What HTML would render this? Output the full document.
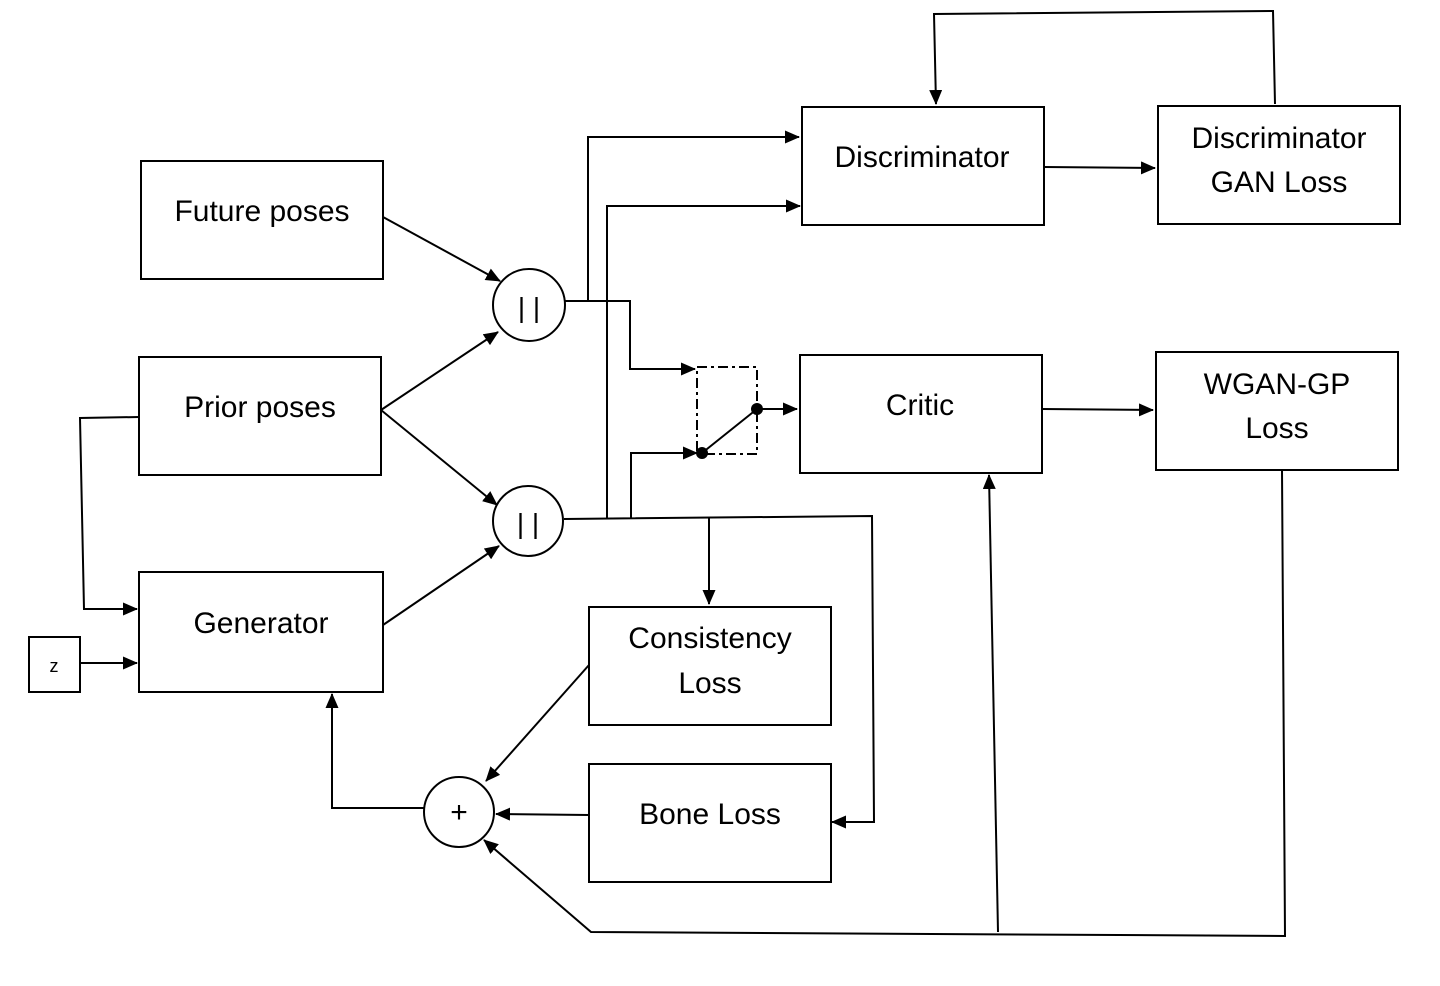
<!DOCTYPE html>
<html><head><meta charset="utf-8"><style>
html,body{margin:0;padding:0;background:#fff;}
svg text{font-family:"Liberation Sans",sans-serif;font-size:30px;fill:#000;text-anchor:middle;}
</style></head><body>
<svg width="1440" height="981" viewBox="0 0 1440 981" xmlns="http://www.w3.org/2000/svg">
<defs>
<marker id="b" markerWidth="15" markerHeight="13" refX="14" refY="6.5" orient="auto" markerUnits="userSpaceOnUse" viewBox="0 0 15 13"><path d="M0,0 L15,6.5 L0,13 z" fill="#000"/></marker></defs>
<g fill="none" stroke="#000" stroke-width="2">
<rect x="141" y="161" width="242" height="118"/>
<rect x="139" y="357" width="242" height="118"/>
<rect x="139" y="572" width="244" height="120"/>
<rect x="29" y="637" width="51" height="55"/>
<rect x="802" y="107" width="242" height="118"/>
<rect x="1158" y="106" width="242" height="118"/>
<rect x="800" y="355" width="242" height="118"/>
<rect x="1156" y="352" width="242" height="118"/>
<rect x="589" y="607" width="242" height="118"/>
<rect x="589" y="764" width="242" height="118"/>
<circle cx="529" cy="305" r="36"/>
<circle cx="528" cy="521" r="35"/>
<circle cx="459" cy="812" r="35"/>
<rect x="697" y="367" width="60" height="87" stroke-dasharray="10,4,3,4"/>
<g marker-end="url(#b)">
<path d="M383,217 L500,281"/>
<path d="M381,410 L498,332"/>
<path d="M381,410 L497,505"/>
<path d="M383,625 L499,546"/>
<path d="M139,417 L80,418 L84,609 L137,609"/>
<path d="M80,663 L137,663"/>
<path d="M565,301 L630,301 L630,369 L695,369"/>
<path d="M588,301 L588,137 L799,137"/>
<path d="M564,519 L872,516 L874,822 L832,822"/>
<path d="M607,519 L607,206 L800,206"/>
<path d="M631,519 L631,453 L697,453"/>
<path d="M709,518 L709,604"/>
<path d="M757,409 L797,409"/>
<path d="M1044,167 L1155,168"/>
<path d="M1042,409 L1153,410"/>
<path d="M1275,104 L1273,11 L934,14 L936,104"/>
<path d="M1282,470 L1285,936 L591,932 L484,840"/>
<path d="M998,932 L989,475"/>
<path d="M589,665 L486,781"/>
<path d="M589,815 L496,814"/>
<path d="M424,808 L332,808 L332,694"/>
</g>
<path d="M702,453 L757,409"/>
</g>
<circle cx="702" cy="453" r="6"/>
<circle cx="757" cy="409" r="6"/>
<text x="262" y="221">Future poses</text>
<text x="260" y="417">Prior poses</text>
<text x="261" y="633">Generator</text>
<text x="54" y="672" style="font-size:18px">z</text>
<text x="922" y="167">Discriminator</text>
<text x="1279" y="148">Discriminator</text>
<text x="1279" y="192">GAN Loss</text>
<text x="920" y="415">Critic</text>
<text x="1277" y="394">WGAN-GP</text>
<text x="1277" y="438">Loss</text>
<text x="710" y="648">Consistency</text>
<text x="710" y="693">Loss</text>
<text x="710" y="824">Bone Loss</text>
<text x="529" y="317" style="font-size:28px">| |</text>
<text x="528" y="533" style="font-size:28px">| |</text>
<text x="459" y="822" style="font-size:30px">+</text>
</svg>
</body></html>
